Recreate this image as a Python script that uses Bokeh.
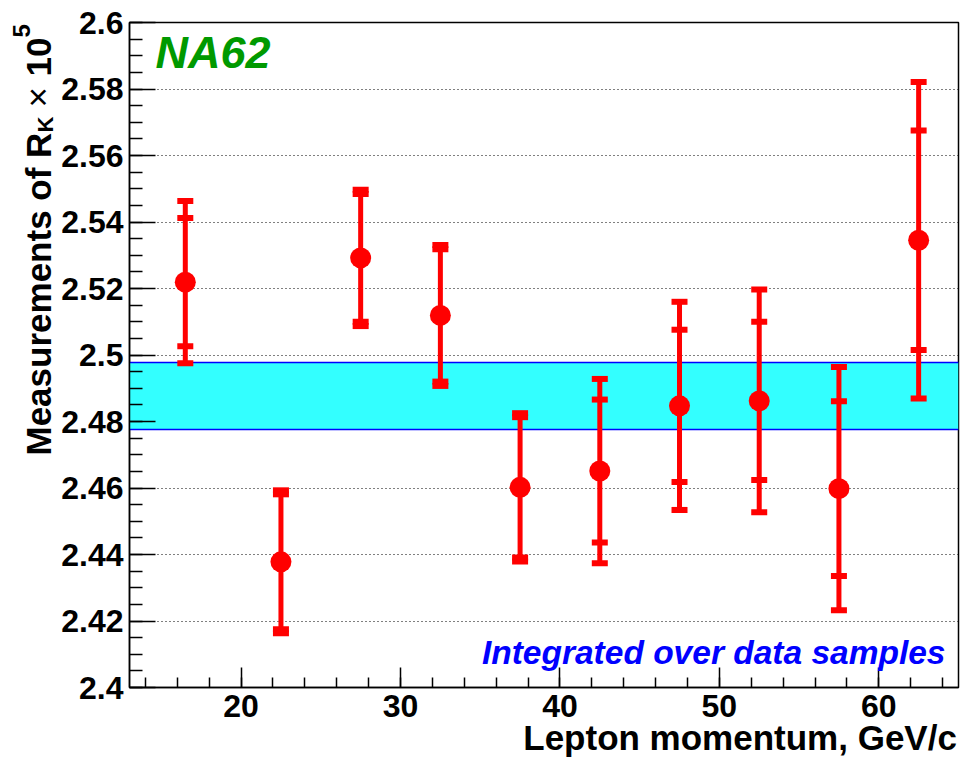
import numpy as np
from bokeh.plotting import figure
from bokeh.layouts import row
from bokeh.models import ColumnDataSource, FixedTicker, Label, Range1d, LinearAxis
from bokeh.embed import file_html
from bokeh.resources import INLINE

# ---- data ----
momentum = [16.5, 22.5, 27.5, 32.5, 37.5, 42.5, 47.5, 52.5, 57.5, 62.5]
rk_value = [2.5219, 2.4378, 2.5292, 2.5119, 2.4602, 2.4651, 2.4847, 2.4862, 2.4598, 2.5345]
stat_err = [0.0193, 0.0203, 0.0192, 0.0199, 0.0211, 0.0215, 0.0229, 0.0238, 0.0263, 0.0330]
total_err = [0.0244, 0.0215, 0.0205, 0.0212, 0.0223, 0.0277, 0.0313, 0.0335, 0.0366, 0.0476]
band_low = 2.4775
band_high = 2.4978

x_major_ticks = [20, 30, 40, 50, 60]
y_major_ticks = [2.40, 2.42, 2.44, 2.46, 2.48, 2.50, 2.52, 2.54, 2.56, 2.58, 2.60]
y_tick_labels = ["2.4", "2.42", "2.44", "2.46", "2.48", "2.5", "2.52", "2.54", "2.56", "2.58", "2.6"]
x_range = (13, 65)
y_range = (2.4, 2.6)
x_title = "Lepton momentum, GeV/c"
x_title_center = 51.3

FONT = "Liberation Sans"
H = 760
FRAME_BOTTOM = 687   # page y of the frame bottom (shared by both plots in the row)
STRIP_W = 58         # width of the left strip that holds the rotated y title
FRAME_LEFT = 127     # page x of the frame's left edge

v = np.array(rk_value)
s = np.array(stat_err)
t = np.array(total_err)
src = ColumnDataSource(dict(
    x=momentum, y=rk_value,
    tot_lo=v - t, tot_hi=v + t,
    st_lo=v - s, st_hi=v + s,
))

# ---------------- main plot ----------------
p = figure(width=962 - STRIP_W, height=H, output_backend="svg", toolbar_location=None,
           x_range=Range1d(*x_range), y_range=Range1d(*y_range),
           min_border_left=FRAME_LEFT - STRIP_W, min_border_right=4, min_border_top=22,
           min_border_bottom=H - FRAME_BOTTOM)

p.background_fill_color = "white"
p.border_fill_color = "white"
p.outline_line_color = "black"
p.outline_line_width = 1.5

p.xgrid.visible = False
p.ygrid.grid_line_color = "black"
p.ygrid.grid_line_dash = "1 3"
p.ygrid.grid_line_width = 1

p.xaxis.ticker = FixedTicker(ticks=x_major_ticks, minor_ticks=list(np.arange(14, 65, 2)))
p.yaxis.ticker = FixedTicker(ticks=y_major_ticks, minor_ticks=list(np.round(np.arange(2.4, 2.6001, 0.005), 4)))
p.yaxis.major_label_overrides = {tk: lb for tk, lb in zip(y_major_ticks, y_tick_labels)}

for ax in (p.xaxis[0], p.yaxis[0]):
    ax.axis_line_color = "black"
    ax.axis_line_width = 1.5
    ax.major_tick_line_color = "black"
    ax.minor_tick_line_color = "black"
    ax.major_tick_line_width = 1.5
    ax.minor_tick_line_width = 1.5
    ax.major_tick_out = 0
    ax.minor_tick_out = 0
    ax.major_label_text_font = FONT
    ax.major_label_text_font_style = "bold"
    ax.major_label_text_font_size = "32px"
    ax.major_label_text_color = "black"

p.xaxis.major_tick_in = 20
p.xaxis.minor_tick_in = 10
p.xaxis.major_label_standoff = 7
p.yaxis.major_tick_in = 26
p.yaxis.minor_tick_in = 13
p.yaxis.major_label_standoff = 6

# x title as a second (label-only) axis below the first
title_axis = LinearAxis(ticker=FixedTicker(ticks=[x_title_center], minor_ticks=[]),
                        major_label_overrides={x_title_center: x_title})
title_axis.axis_line_color = None
title_axis.major_tick_line_color = None
title_axis.minor_tick_line_color = None
title_axis.major_tick_out = 0
title_axis.major_tick_in = 0
title_axis.major_label_standoff = -2
title_axis.major_label_text_font = FONT
title_axis.major_label_text_font_style = "bold"
title_axis.major_label_text_font_size = "35px"
title_axis.major_label_text_color = "black"
p.add_layout(title_axis, "below")

# band
p.hstrip(y0=[band_low], y1=[band_high], fill_color="#33ffff", line_color="#0000ff", line_width=1.5)

# error bars
red = "#ff0000"
p.segment(x0="x", y0="tot_lo", x1="x", y1="tot_hi", source=src, line_color=red, line_width=5)
for col in ("tot_lo", "tot_hi", "st_lo", "st_hi"):
    p.rect(x="x", y=col, width=16, height=6, width_units="screen", height_units="screen",
           source=src, fill_color=red, line_color=None)
p.scatter(x="x", y="y", source=src, size=21, fill_color=red, line_color=None, marker="circle")


def lab(fig, text, x, y, size, style="bold", color="black", align="left", angle=0.0):
    fig.add_layout(Label(x=x, y=y, x_units="screen", y_units="screen", text=text,
                         text_font=FONT, text_font_style=style, text_font_size=f"{size}px",
                         text_color=color, text_align=align, text_baseline="middle",
                         angle=angle))


# positions: frame-relative screen units, y measured up from the frame bottom
lab(p, "NA62", 26, FRAME_BOTTOM - 51.5, 45, style="bold italic", color="#009900")
lab(p, "Integrated over data samples", 816, FRAME_BOTTOM - 651.5, 33.5, style="bold italic",
    color="#0000ff", align="right")

# ---------------- left strip holding the rotated y title ----------------
a = figure(width=STRIP_W, height=H, output_backend="svg", toolbar_location=None,
           x_axis_location=None, y_axis_location=None, min_border=0,
           x_range=Range1d(0, 1), y_range=Range1d(0, 1))
a.outline_line_color = None
a.background_fill_color = "white"
a.border_fill_color = "white"
a.grid.visible = False

ang = np.pi / 2
lab(a, "Measurements of R", 50.5 - 0.35 * 35, FRAME_BOTTOM - 455, 35, angle=ang)
lab(a, "K", 53 - 0.35 * 22, FRAME_BOTTOM - 132, 22, angle=ang)
lab(a, "×", 37, FRAME_BOTTOM - 107, 35, style="normal", angle=ang)
lab(a, "10", 50.5 - 0.35 * 35, FRAME_BOTTOM - 76, 35, angle=ang)
lab(a, "5", 29 - 0.35 * 24, FRAME_BOTTOM - 37, 24, angle=ang)

layout = row(a, p)
open("out.html", "w").write(file_html(layout, INLINE))
